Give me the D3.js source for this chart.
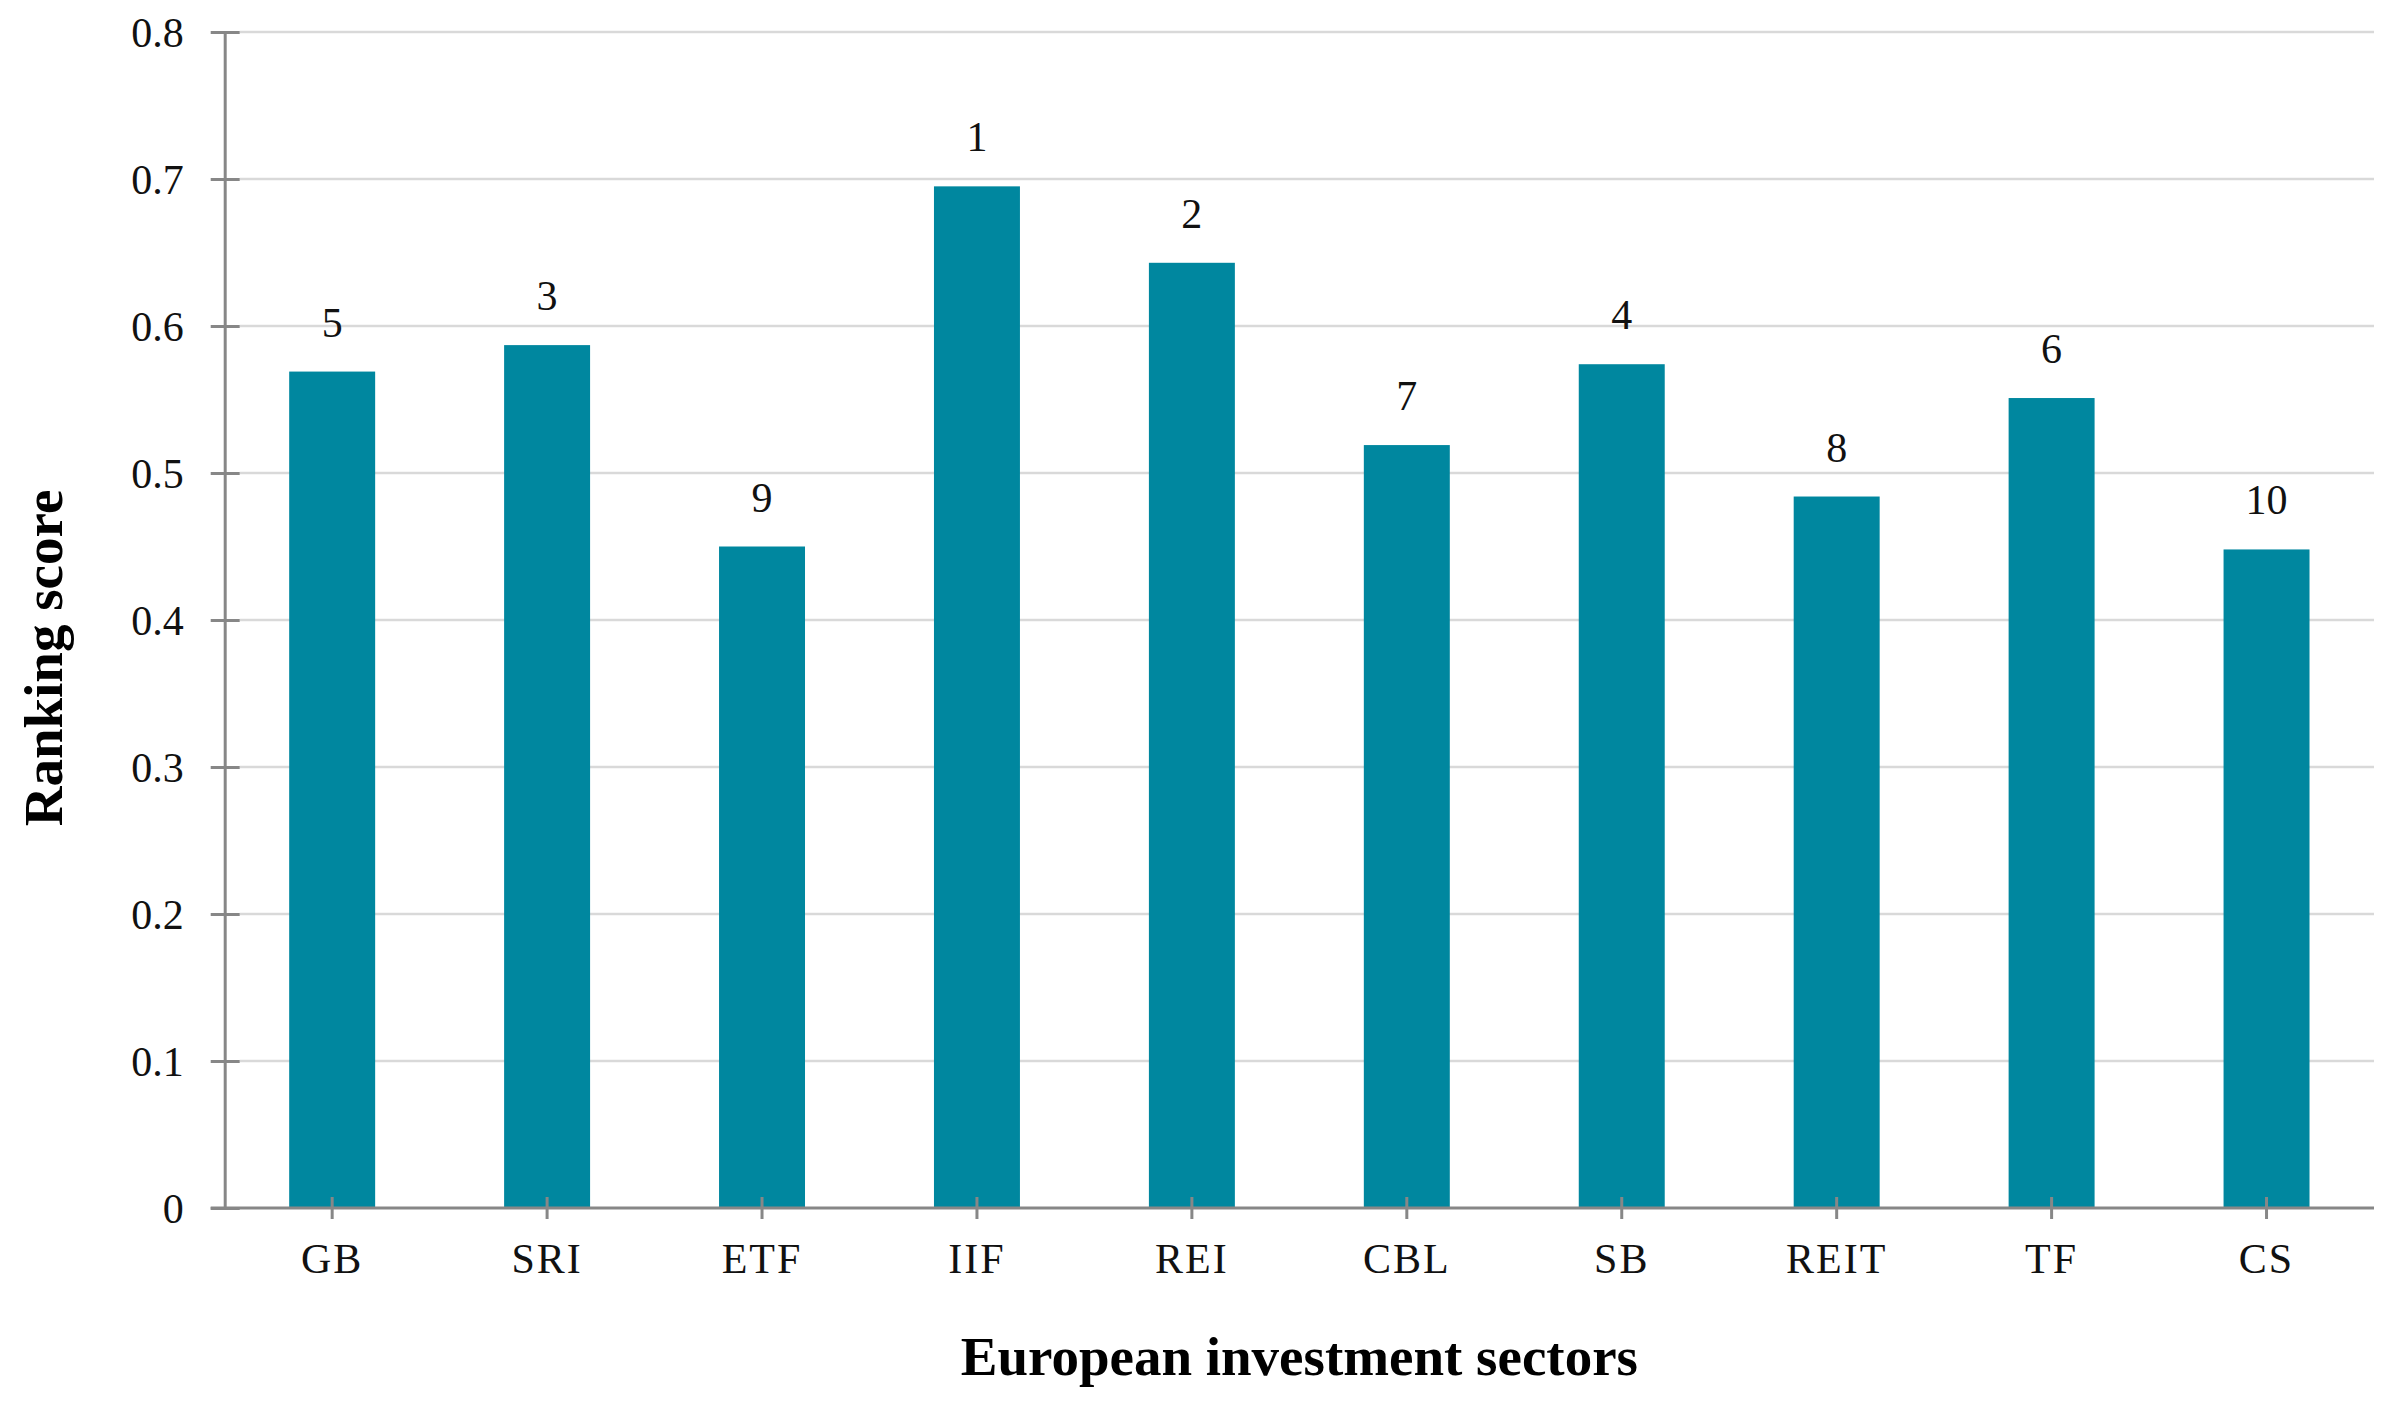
<!DOCTYPE html>
<html>
<head>
<meta charset="utf-8">
<script src="https://cdn.jsdelivr.net/npm/d3@7"></script>
<style>
  html, body { margin: 0; padding: 0; background: #fff; }
  svg { display: block; }
  text { font-family: "Liberation Serif", "Times New Roman", serif; }
</style>
</head>
<body>
<svg id="chart" width="2397" height="1404"></svg>
<script>
const categories = ["GB", "SRI", "ETF", "IIF", "REI", "CBL", "SB", "REIT", "TF", "CS"];
const scores = [0.569, 0.587, 0.450, 0.695, 0.643, 0.519, 0.574, 0.484, 0.551, 0.448];
const ranks = ["5", "3", "9", "1", "2", "7", "4", "8", "6", "10"];
const yTicks = [0, 0.1, 0.2, 0.3, 0.4, 0.5, 0.6, 0.7, 0.8];
const yTickLabels = ["0", "0.1", "0.2", "0.3", "0.4", "0.5", "0.6", "0.7", "0.8"];
const xTitle = "European investment sectors";
const yTitle = "Ranking score";

const W = 2397, H = 1404;
const margin = { left: 224.7, right: W - 2374, top: 32, bottom: H - 1208 };
const iw = W - margin.left - margin.right;
const ih = H - margin.top - margin.bottom;

const svg = d3.select("#chart");
const g = svg.append("g").attr("transform", `translate(${margin.left},${margin.top})`);

const x = d3.scaleBand().domain(categories).range([0, iw]).paddingInner(0.6).paddingOuter(0.3);
const y = d3.scaleLinear().domain([0, 0.8]).range([ih, 0]);

const axisColor = "#878787";
const gridColor = "#d9d9d9";
const barColor = "#00879f";

// gridlines
g.append("g").selectAll("line")
  .data(yTicks.filter(d => d > 0))
  .join("line")
  .attr("x1", 15).attr("x2", iw)
  .attr("y1", d => y(d)).attr("y2", d => y(d))
  .attr("stroke", gridColor).attr("stroke-width", 2.3);

// bars
g.append("g").selectAll("rect")
  .data(categories)
  .join("rect")
  .attr("x", d => x(d))
  .attr("width", x.bandwidth())
  .attr("y", (d, i) => y(scores[i]))
  .attr("height", (d, i) => y(0) - y(scores[i]))
  .attr("fill", barColor);

// rank labels
g.append("g").selectAll("text")
  .data(categories)
  .join("text")
  .attr("x", d => x(d) + x.bandwidth() / 2)
  .attr("y", (d, i) => y(scores[i]) - 35)
  .attr("text-anchor", "middle")
  .attr("font-size", 42)
  .attr("fill", "#111")
  .text((d, i) => ranks[i]);

// y axis
const yAxis = d3.axisLeft(y).tickValues(yTicks).tickFormat((d, i) => yTickLabels[i]).tickSize(14).tickSizeOuter(0);
const yg = g.append("g").call(yAxis);
yg.select(".domain").attr("stroke", axisColor).attr("stroke-width", 3);
yg.selectAll(".tick line").attr("x1", -14).attr("x2", 15).attr("stroke", axisColor).attr("stroke-width", 3);
yg.selectAll(".tick text").attr("x", -41).attr("dy", "0.34em")
  .attr("font-size", 42).attr("fill", "#111")
  .style("font-family", '"Liberation Serif", "Times New Roman", serif');

// x axis
const xAxis = d3.axisBottom(x).tickSize(11).tickSizeOuter(0);
const xg = g.append("g").attr("transform", `translate(0,${ih})`).call(xAxis);
xg.select(".domain").remove();
xg.append("line").attr("x1", -14).attr("x2", iw).attr("y1", 0).attr("y2", 0)
  .attr("stroke", axisColor).attr("stroke-width", 3);
xg.selectAll(".tick line").attr("y1", -11).attr("y2", 11).attr("stroke", axisColor).attr("stroke-width", 3);
xg.selectAll(".tick text").attr("y", 65).attr("dy", 0)
  .attr("font-size", 42).attr("fill", "#111").attr("letter-spacing", 2)
  .style("font-family", '"Liberation Serif", "Times New Roman", serif');

// axis titles
svg.append("text")
  .attr("x", margin.left + iw / 2).attr("y", 1375)
  .attr("text-anchor", "middle")
  .attr("font-size", 55).attr("font-weight", "bold").attr("fill", "#000")
  .text(xTitle);

svg.append("text")
  .attr("transform", "translate(62,658) rotate(-90)")
  .attr("text-anchor", "middle")
  .attr("font-size", 55).attr("font-weight", "bold").attr("fill", "#000")
  .text(yTitle);
</script>
</body>
</html>
